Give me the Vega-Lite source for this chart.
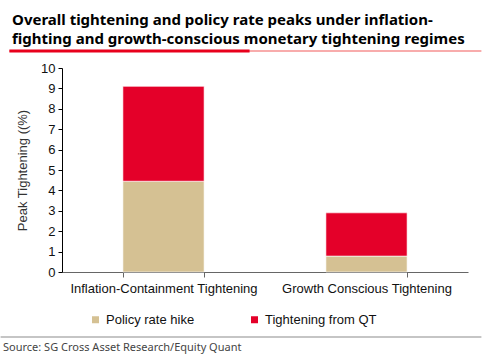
{
  "$schema": "https://vega.github.io/schema/vega-lite/v6.json",
  "padding": {"left": 0, "top": 12, "right": 1, "bottom": 2},
  "background": "white",
  "spacing": 9,
  "title": {
    "text": ["Overall tightening and policy rate peaks under inflation-", "fighting and growth-conscious monetary tightening regimes"],
    "anchor": "start",
    "font": "Noto Sans",
    "fontWeight": "bold",
    "fontSize": 15,
    "lineHeight": 19,
    "color": "#000000",
    "offset": 3,
    "dx": 12
  },
  "datasets": {
    "bars": [
      {"regime": "Inflation-Containment Tightening", "component": "Policy rate hike", "value": 4.45},
      {"regime": "Inflation-Containment Tightening", "component": "Tightening from QT", "value": 4.65},
      {"regime": "Growth Conscious Tightening", "component": "Policy rate hike", "value": 0.78},
      {"regime": "Growth Conscious Tightening", "component": "Tightening from QT", "value": 2.12}
    ],
    "underline": [
      {"part": "thin", "start": -0.1296, "end": 1.033},
      {"part": "thick", "start": -0.1296, "end": 0.462}
    ],
    "footer": [
      {"part": "line", "start": -0.1512, "end": 1.033}
    ]
  },
  "vconcat": [
    {
      "width": 406,
      "height": 1,
      "data": {"name": "underline"},
      "mark": {"type": "rule", "clip": false},
      "encoding": {
        "x": {"field": "start", "type": "quantitative", "scale": {"domain": [0, 1], "nice": false, "zero": false}, "axis": null},
        "x2": {"field": "end"},
        "y": {"datum": 0, "type": "quantitative", "scale": {"domain": [0, 1]}, "axis": null},
        "color": {"field": "part", "type": "nominal", "scale": {"domain": ["thin", "thick"], "range": ["#F25A5A", "#E8001C"]}, "legend": null},
        "strokeWidth": {"field": "part", "type": "nominal", "scale": {"domain": ["thin", "thick"], "range": [1.2, 3]}, "legend": null},
        "order": {"field": "part", "sort": "descending"}
      }
    },
    {
      "width": 406,
      "height": 204,
      "data": {"name": "bars"},
      "transform": [
        {"calculate": "datum.component === 'Policy rate hike' ? 0 : 1", "as": "ord"}
      ],
      "mark": {"type": "bar", "stroke": "white", "strokeWidth": 0.6},
      "encoding": {
        "x": {
          "field": "regime",
          "type": "nominal",
          "sort": ["Inflation-Containment Tightening", "Growth Conscious Tightening"],
          "scale": {"paddingInner": 0.6, "paddingOuter": 0.3},
          "axis": {
            "title": null,
            "labelAngle": 0,
            "labelFont": "Liberation Sans",
            "labelFontSize": 13,
            "labelColor": "#111111",
            "labelPadding": 5,
            "labelLimit": 0,
            "tickBand": "extent",
            "tickColor": "#666666",
            "domainColor": "#666666",
            "tickSize": 5,
            "grid": false
          }
        },
        "y": {
          "field": "value",
          "type": "quantitative",
          "stack": "zero",
          "scale": {"domain": [0, 10]},
          "axis": {
            "title": "Peak Tightening ((%)",
            "titleFont": "Liberation Sans",
            "titleFontSize": 13,
            "titleFontWeight": "normal",
            "titleColor": "#333333",
            "titlePadding": 11,
            "values": [0, 1, 2, 3, 4, 5, 6, 7, 8, 9, 10],
            "labelFont": "Liberation Sans",
            "labelFontSize": 13,
            "labelColor": "#111111",
            "labelPadding": 3,
            "tickColor": "#000000",
            "domainColor": "#000000",
            "tickSize": 4,
            "grid": false
          }
        },
        "color": {
          "field": "component",
          "type": "nominal",
          "scale": {"domain": ["Policy rate hike", "Tightening from QT"], "range": ["#D5C193", "#E40029"]},
          "legend": {
            "orient": "none",
            "legendX": 27,
            "legendY": 245,
            "title": null,
            "direction": "horizontal",
            "symbolType": "square",
            "symbolSize": 49,
            "symbolStrokeWidth": 0,
            "labelFont": "Liberation Sans",
            "labelFontSize": 13,
            "labelColor": "#111111",
            "labelOffset": 4,
            "columnPadding": 53
          }
        },
        "order": {"field": "ord", "type": "quantitative"}
      }
    },
    {
      "width": 406,
      "height": 1,
      "title": {
        "text": "Source: SG Cross Asset Research/Equity Quant",
        "orient": "bottom",
        "anchor": "start",
        "font": "Noto Sans",
        "fontWeight": "normal",
        "fontSize": 11,
        "color": "#444444",
        "dx": 3,
        "offset": 4
      },
      "data": {"name": "footer"},
      "mark": {"type": "rule", "clip": false},
      "encoding": {
        "x": {"field": "start", "type": "quantitative", "scale": {"domain": [0, 1], "nice": false, "zero": false}, "axis": null},
        "x2": {"field": "end"},
        "y": {"datum": 0, "type": "quantitative", "scale": {"domain": [0, 1]}, "axis": null},
        "color": {"field": "part", "type": "nominal", "scale": {"domain": ["line"], "range": ["#8C8C8C"]}, "legend": null},
        "strokeWidth": {"value": 1.2}
      }
    }
  ],
  "resolve": {"scale": {"x": "independent", "y": "independent", "color": "independent", "strokeWidth": "independent"}},
  "config": {"view": {"stroke": null}}
}
